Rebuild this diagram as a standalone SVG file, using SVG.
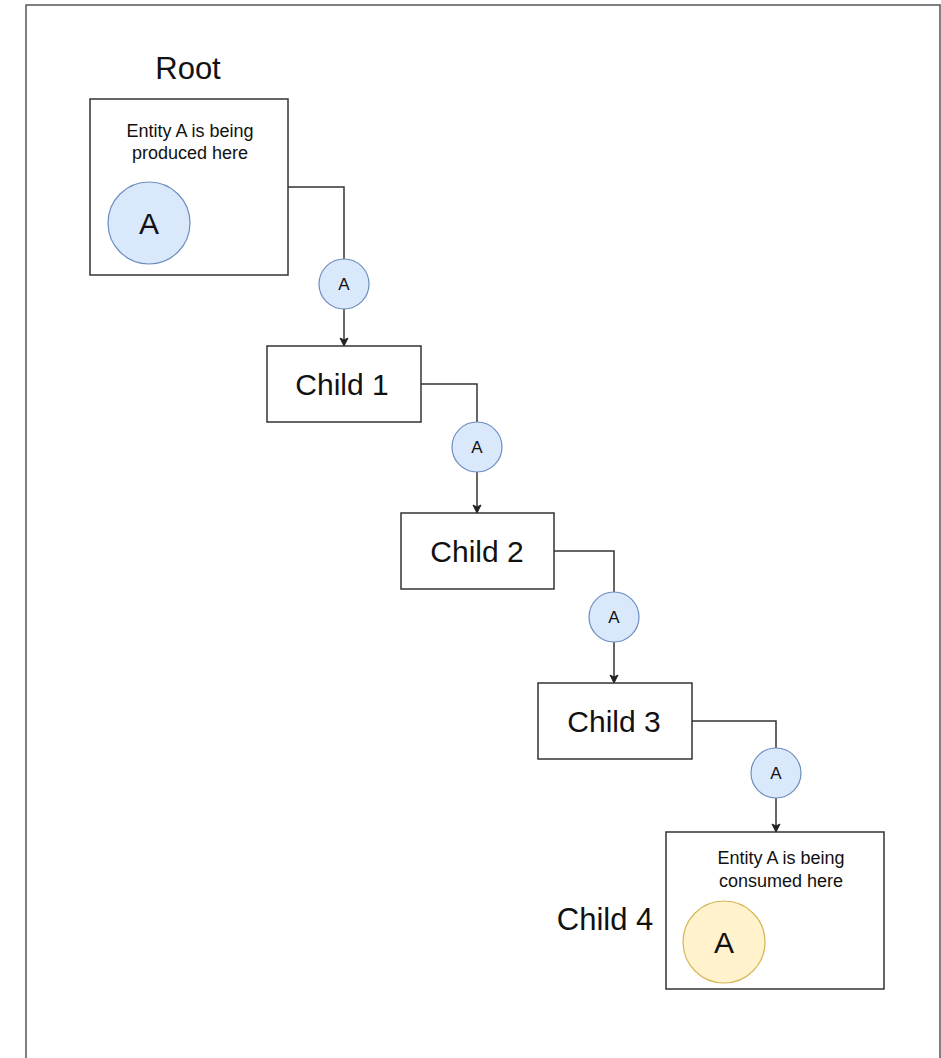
<svg xmlns="http://www.w3.org/2000/svg" width="941" height="1058" viewBox="0 0 941 1058">
<style>
.box{fill:#fff;stroke:#333;stroke-width:1.5}
.tok{fill:#dae8fc;stroke:#6c8ebf;stroke-width:1.2}
.tokY{fill:#fff2cc;stroke:#d6b656;stroke-width:1.2}
.edge{fill:none;stroke:#333;stroke-width:1.5}
text{font-family:"Liberation Sans",Arial,Helvetica,sans-serif;fill:#111;text-anchor:middle}
.lbl{font-size:30px}
.sm{font-size:18px}
.big{font-size:30px}
.tiny{font-size:17px}
</style>
<defs>
<marker id="arr" markerWidth="10" markerHeight="10" refX="9" refY="5" orient="auto" markerUnits="userSpaceOnUse">
<path d="M1,1 L9,5 L1,9 L3,5 Z" fill="#222" stroke="#222" stroke-width="1"/>
</marker>
</defs>
<rect x="0" y="0" width="941" height="1058" fill="#fff"/>
<path d="M26,1058 V5 H940 V1058" fill="none" stroke="#555" stroke-width="1.5"/>
<g id="connectors">
<path class="edge" d="M288,187 H344 V259"/>
<path class="edge" d="M344,309 V346" marker-end="url(#arr)"/>
<path class="edge" d="M421,384 H477 V422"/>
<path class="edge" d="M477,472 V513" marker-end="url(#arr)"/>
<path class="edge" d="M554,551 H614 V592"/>
<path class="edge" d="M614,642 V683" marker-end="url(#arr)"/>
<path class="edge" d="M692,721 H776 V748"/>
<path class="edge" d="M776,798 V832" marker-end="url(#arr)"/>
</g>
<g id="root">
<text class="lbl" x="188" y="79" style="font-size:31px">Root</text>
<rect class="box" x="90" y="99" width="198" height="176"/>
<text class="sm" x="190" y="137">Entity A is being</text>
<text class="sm" x="190" y="159">produced here</text>
<circle class="tok" cx="149" cy="223" r="41"/>
<text class="big" x="149" y="234">A</text>
</g>
<g id="token1">
<circle class="tok" cx="344" cy="284" r="25"/>
<text class="tiny" x="344" y="290">A</text>
</g>
<g id="child1">
<rect class="box" x="267" y="346" width="154" height="76"/>
<text class="lbl" x="342" y="395">Child 1</text>
</g>
<g id="token2">
<circle class="tok" cx="477" cy="447" r="25"/>
<text class="tiny" x="477" y="453">A</text>
</g>
<g id="child2">
<rect class="box" x="401" y="513" width="153" height="76"/>
<text class="lbl" x="477" y="562">Child 2</text>
</g>
<g id="token3">
<circle class="tok" cx="614" cy="617" r="25"/>
<text class="tiny" x="614" y="623">A</text>
</g>
<g id="child3">
<rect class="box" x="538" y="683" width="154" height="76"/>
<text class="lbl" x="614" y="732">Child 3</text>
</g>
<g id="token4">
<circle class="tok" cx="776" cy="773" r="25"/>
<text class="tiny" x="776" y="779">A</text>
</g>
<g id="child4">
<text class="lbl" x="605" y="930" style="font-size:31px">Child 4</text>
<rect class="box" x="666" y="832" width="218" height="157"/>
<text class="sm" x="781" y="864">Entity A is being</text>
<text class="sm" x="781" y="887">consumed here</text>
<circle class="tokY" cx="724" cy="942" r="41"/>
<text class="big" x="724" y="953">A</text>
</g>
</svg>
